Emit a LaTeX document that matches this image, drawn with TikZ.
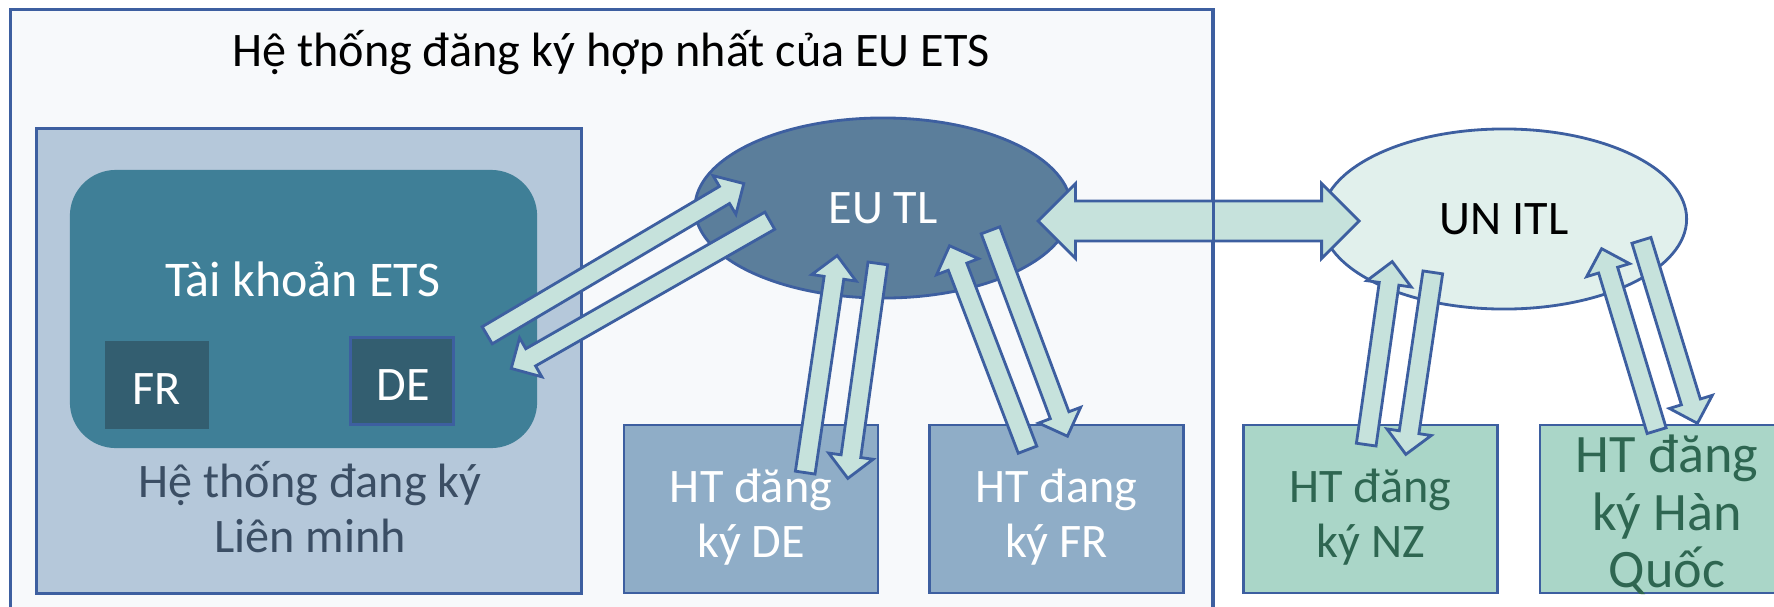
\documentclass[tikz,border=0pt]{standalone}
\usepackage{fontspec}
\setmainfont{Carlito}
\usetikzlibrary{shapes.geometric,shapes.arrows,calc}

\definecolor{linecol}{HTML}{3D5FA0}
\definecolor{outerfill}{HTML}{F7F9FB}
\definecolor{unionfill}{HTML}{B5C8DA}
\definecolor{etsfill}{HTML}{3F7F97}
\definecolor{accfill}{HTML}{335E70}
\definecolor{eutlfill}{HTML}{5B7E9B}
\definecolor{eufill}{HTML}{8FADC7}
\definecolor{unfill}{HTML}{AAD6C8}
\definecolor{itlfill}{HTML}{E1F0EC}
\definecolor{arrowfill}{HTML}{C6E2DC}
\definecolor{uniontext}{HTML}{3B4E64}
\definecolor{untext}{HTML}{2E6651}

\begin{document}
\begin{tikzpicture}
  [x=0.01cm, y=-0.01cm, font=\fontsize{13.7}{15.5}\selectfont,
   regbox/.style={draw=linecol, line width=0.8pt, minimum width=2.54cm, minimum height=1.68cm, inner sep=0pt},
   regtext/.style={align=center},
   acc/.style={fill=accfill, minimum width=1.03cm, minimum height=0.87cm, inner sep=0pt, text=white},
   ledger/.style={ellipse, draw=linecol, line width=0.8pt, minimum height=1.8cm, inner sep=0pt},
   onearrow/.style={single arrow, draw=linecol, fill=arrowfill, line width=0.8pt, inner xsep=0pt, inner ysep=0.085cm,
     text height=0pt, text depth=0pt, minimum width=0pt, single arrow head extend=0.125cm, anchor=tail},
   twoarrow/.style={double arrow, draw=linecol, fill=arrowfill, line width=0.8pt, inner xsep=0pt, inner ysep=0.185cm,
     text height=0pt, text depth=0pt, minimum width=0pt, double arrow head extend=0.175cm}]
  \useasboundingbox (0,0) rectangle (1774,606);

  \node [draw=linecol, fill=outerfill, line width=0.8pt, minimum width=12.01cm, minimum height=6.2cm, inner sep=0pt] (outer) at (611.5,320) {};
  \node [anchor=base] (title) at (611,66) {Hệ thống đăng ký hợp nhất của EU ETS};

  \node [draw=linecol, fill=unionfill, line width=0.8pt, minimum width=5.44cm, minimum height=4.64cm, inner sep=0pt] (union) at (309,361) {};
  \node [fill=etsfill, rounded corners=0.46cm, minimum width=4.67cm, minimum height=2.78cm, inner sep=0pt] (ets) at (303.5,309) {};
  \node [text=white, anchor=base, font=\fontsize{14.2}{16}\selectfont] (etslbl) at (303,296) {Tài khoản ETS};
  \node [acc] (fr) at (157,385) {};
  \node [acc, draw=linecol, line width=0.8pt] (de) at (402,381) {};
  \node [text=white] (frlbl) at (157,389) {FR};
  \node [text=white] (delbl) at (403,385) {DE};
  \node [text=uniontext, align=center] (unionlbl) at (310,507) {Hệ thống đang ký\\Liên minh};

  \node [ledger, fill=eutlfill, text=white, minimum width=3.76cm] (eutl) at (883,208) {EU TL};
  \node [ledger, fill=itlfill, minimum width=3.65cm] (unitl) at (1504,219) {UN ITL};

  \node [regbox, fill=eufill] (dereg) at (751,509) {};
  \node [regbox, fill=eufill] (frreg) at (1056.5,509) {};
  \node [regbox, fill=unfill] (nzreg) at (1370.5,509) {};
  \node [regbox, fill=unfill] (krreg) at (1667,509) {};
  \node [regtext, text=white] (detext) at ($(dereg)+(0,8)$) {HT đăng\\ký DE};
  \node [regtext, text=white] (frtext) at ($(frreg)+(0,8)$) {HT đang\\ký FR};
  \node [regtext, text=untext] (nztext) at ($(nzreg)+(0,8)$) {HT đăng\\ký NZ};
  \node [regtext, text=untext, font=\fontsize{15.4}{16.4}\selectfont] (krtext) at ($(krreg)+(0,6)$) {HT đăng\\ký Hàn\\Quốc};

  \coordinate (ets1) at (486,336);  \coordinate (tl1) at (743,184);
  \coordinate (tl2) at (771,220);   \coordinate (ets2) at (512,368);
  \coordinate (de1) at (805,474);   \coordinate (tl3) at (837,257);
  \coordinate (tl4) at (878,262);   \coordinate (de2) at (848,477);
  \coordinate (fr1) at (1028,451);  \coordinate (tl5) at (950,247);
  \coordinate (tl6) at (990,229);   \coordinate (fr2) at (1067,435);
  \coordinate (nz1) at (1366,446);  \coordinate (itl1) at (1392,263);
  \coordinate (itl2) at (1433,271); \coordinate (nz2) at (1406,453);
  \coordinate (kr1) at (1657,432);  \coordinate (itl3) at (1602,250);
  \coordinate (itl4) at (1641,239); \coordinate (kr2) at (1697,422);

  \foreach \from/\to in {ets1/tl1, tl2/ets2, de1/tl3, tl4/de2, fr1/tl5, tl6/fr2, nz1/itl1, itl2/nz2, kr1/itl3, itl4/kr2}
    \path let \p1 = (\from), \p2 = (\to) in
      node [onearrow, minimum height={veclen(\x2-\x1,\y2-\y1)}, rotate={atan2(\y2-\y1,\x2-\x1)}] (\from-\to) at (\from) {};

  \coordinate (tl0) at (1038,221); \coordinate (itl0) at (1359,221);
  \path let \p1 = (tl0), \p2 = (itl0) in
    node [twoarrow, minimum height={\x2-\x1}] (link) at ($(tl0)!0.5!(itl0)$) {};

  \draw [linecol, line width=0.8pt] (outer.north east) -- (outer.south east);
\end{tikzpicture}
\end{document}
